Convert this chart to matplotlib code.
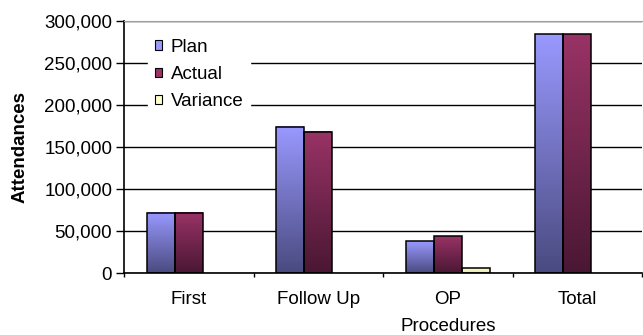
import numpy as np
import matplotlib
matplotlib.use("Agg")
import matplotlib.pyplot as plt
from matplotlib.colors import LinearSegmentedColormap
from matplotlib.patches import Patch

plt.rcParams['font.family'] = ['Liberation Sans', 'DejaVu Sans']

categories = ["First", "Follow Up", "OP\nProcedures", "Total"]
plan = [72000, 174000, 38000, 284000]
actual = [72000, 168000, 44000, 284000]
variance = [0, 0, 6500, 0]
series_names = ["Plan", "Actual", "Variance"]

top_colors = ["#9999FF", "#993366", "#FFFFCC"]
bot_colors = ["#4A4A80", "#4A1733", "#E8E8B0"]

FS = 13.5

fig = plt.figure(figsize=(6.43, 3.35), dpi=100)
ax = fig.add_axes([124/643, 1-273/335, (642-124)/643, (273-21)/335])

x = np.arange(len(categories))
w = 0.215
series = [plan, actual, variance]
offsets = [-w, 0, w]

grad = np.linspace(1, 0, 256).reshape(-1, 1)
for vals, off, tc, bc in zip(series, offsets, top_colors, bot_colors):
    cmap = LinearSegmentedColormap.from_list("g", [bc, tc])
    bars = ax.bar(x + off, vals, w, facecolor="none", edgecolor="black", linewidth=1.1, zorder=3)
    for b in bars:
        h = b.get_height()
        if h <= 0:
            b.set_visible(False)
            continue
        ax.imshow(grad, cmap=cmap, aspect="auto", vmin=0, vmax=1,
                  extent=(b.get_x(), b.get_x() + b.get_width(), 0, h), zorder=2)

ax.set_xlim(-0.5, 3.5)
ax.set_ylim(0, 300000)
ax.set_yticks(np.arange(0, 300001, 50000))
ax.set_yticklabels([f"{v:,}" for v in range(0, 300001, 50000)], fontsize=FS)
ax.yaxis.grid(True, color="black", linewidth=1.0, zorder=0)
ax.set_axisbelow(True)

ax.set_xticks(x)
ax.set_xticklabels(categories, fontsize=FS, linespacing=1.8)
ax.tick_params(axis="x", length=0, pad=13)
ax.set_xticks(np.arange(-0.5, 4.0, 1.0), minor=True)
ax.tick_params(axis="x", which="minor", length=3, direction="out", width=1)
ax.tick_params(axis="y", length=5.5, direction="out", width=1, pad=3)

ax.spines["right"].set_visible(False)
ax.spines["top"].set_color("#a0a0a0")
ax.spines["left"].set_linewidth(1.2)
ax.spines["bottom"].set_linewidth(1.2)

ax.set_ylabel("Attendances", fontsize=FS, fontweight="bold", labelpad=11)

handles = [Patch(facecolor=c, edgecolor="black", linewidth=0.8) for c in top_colors]
leg = ax.legend(handles, series_names, loc="upper left", bbox_to_anchor=(0.047, 0.956),
                frameon=True, fancybox=False, edgecolor="white", framealpha=1.0,
                fontsize=FS, handlelength=0.4, handleheight=0.4, handletextpad=0.45,
                labelspacing=0.55, borderpad=0.35, borderaxespad=0)
leg.set_zorder(5)

fig.savefig("out.png", dpi=100)
